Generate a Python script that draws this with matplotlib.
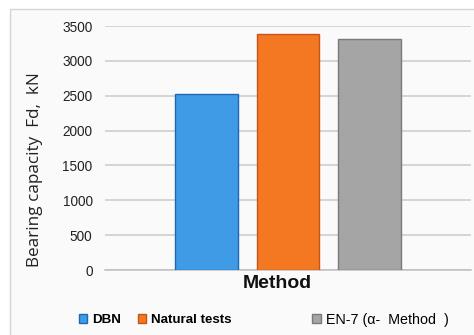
import numpy as np
import matplotlib.pyplot as plt
from matplotlib.patches import Rectangle

methods = ['DBN', 'Natural tests', 'EN-7 (α-  Method  )']
capacity = [2520, 3385, 3315]
colors = ['#3F9BE6', '#F47721', '#A5A5A5']
edges = ['#1C68B5', '#C4561A', '#7A7A7A']
yticks = [0, 500, 1000, 1500, 2000, 2500, 3000, 3500]

plt.rcParams['font.family'] = ['Liberation Sans', 'DejaVu Sans']

fig = plt.figure(figsize=(4.74, 3.35), dpi=100)
fig.patch.set_facecolor('white')

# chart frame (cropped on right / bottom)
frame = Rectangle((10 / 474, -0.02), 1.0, 1 - 9 / 335 + 0.02, transform=fig.transFigure,
                  facecolor='#FAFAFA', edgecolor='#D4D4D4', linewidth=1.0, zorder=-10)
fig.patches.append(frame)

ax = fig.add_axes([105 / 474, (335 - 270) / 335, (471 - 105) / 474, (270 - 26) / 335])
ax.set_facecolor('none')

pos = np.array([-1, 0, 1]) * 1.0
bars = []
for i in range(3):
    b = ax.bar(pos[i], capacity[i], width=0.77, color=colors[i], edgecolor=edges[i],
               linewidth=1.0, zorder=3, label=methods[i])
    bars.append(b)

ax.set_xlim(-2.25, 2.25)
ax.set_ylim(0, 3500)
ax.set_yticks(yticks)
ax.set_yticklabels([str(t) for t in yticks], fontsize=9.8, color='#222222')
ax.set_xticks([])
ax.yaxis.grid(True, color='#CBCBCB', linewidth=1.1, zorder=0)
for s in ['top', 'right', 'left']:
    ax.spines[s].set_visible(False)
ax.spines['bottom'].set_color('#BFBFBF')
ax.spines['bottom'].set_linewidth(1.1)
ax.tick_params(axis='y', length=0, pad=9)

fig.text(35 / 474, 1 - 170 / 335, 'Bearing capacity  Fd,  kN', rotation=90,
         ha='center', va='center', fontsize=12.3, color='#222222',
         fontfamily=['Open Sans', 'DejaVu Sans'])

fig.text(277 / 474, 1 - 284 / 335, 'Method', ha='center', va='center',
         fontsize=14, fontweight='bold', color='#111111')

# legend entries placed one by one to keep the uneven spacing
leg_x = [79 / 474, 138 / 474, 312 / 474]
for i in range(3):
    leg = fig.legend(handles=[bars[i]], labels=[methods[i]], loc='center left',
                     bbox_to_anchor=(leg_x[i], 1 - 320 / 335), frameon=False,
                     handlelength=0.6, handleheight=0.6, handletextpad=0.4,
                     borderpad=0, borderaxespad=0,
                     prop={'size': 9.6 if i < 2 else 10.3, 'weight': 'bold' if i < 2 else 'normal'})

fig.savefig('out.png', dpi=100, facecolor=fig.get_facecolor())
